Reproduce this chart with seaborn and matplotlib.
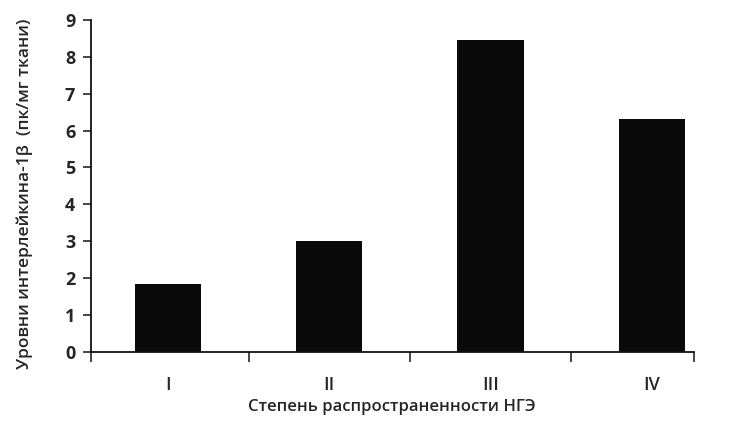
import pandas as pd
import seaborn as sns
import matplotlib.pyplot as plt

# данные
stages = ['I', 'II', 'III', 'IV']
il1b = [1.85, 3.0, 8.45, 6.3]

df = pd.DataFrame({'stage': stages, 'il1b': il1b})

sns.set_style('ticks')
plt.rcParams['font.family'] = ['Open Sans', 'DejaVu Sans']

fig = plt.figure(figsize=(7.31, 4.23), dpi=100)
ax = fig.add_axes([0.124, 0.168, 0.825, 0.785])

sns.barplot(data=df, x='stage', y='il1b', order=stages, color='#0a0a0a',
            width=0.41, saturation=1, edgecolor='none', ax=ax)

ax.set_xlim(-0.48, 3.26)
ax.set_ylim(0, 9)
ax.set_yticks(range(0, 10))
ax.tick_params(axis='y', direction='out', length=6, width=1.2, labelsize=13, pad=5)
for t in ax.get_yticklabels():
    t.set_fontweight('bold')

# подписи категорий по центрам столбцов, засечки на границах
ax.set_xticks(range(len(stages)))
ax.set_xticklabels(stages)
ax.tick_params(axis='x', which='major', length=0, labelsize=13, pad=17)
for t in ax.get_xticklabels():
    t.set_fontweight('semibold')
ax.set_xticks([-0.48, 0.5, 1.5, 2.5, 3.26], minor=True)
ax.tick_params(axis='x', which='minor', direction='out', length=7, width=1.2)

for side in ['top', 'right']:
    ax.spines[side].set_visible(False)
for side in ['left', 'bottom']:
    ax.spines[side].set_linewidth(1.3)
    ax.spines[side].set_color('#111111')

ax.set_xlabel('Степень распространенности НГЭ', fontsize=12, fontweight='semibold', labelpad=4)
ax.set_ylabel('Уровни интерлейкина-1β  (пк/мг ткани)', fontsize=12.5, fontweight='semibold')
ax.yaxis.set_label_coords(-0.095, 0.475)

plt.savefig('out.png', dpi=100)
